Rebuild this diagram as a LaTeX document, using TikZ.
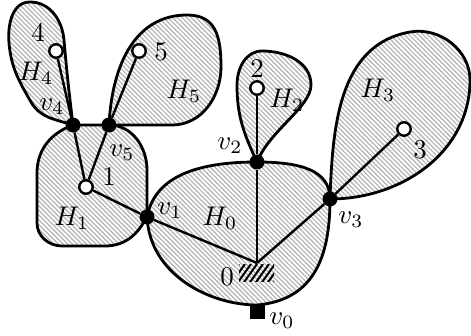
\documentclass[tikz,border=0pt]{standalone}
\usetikzlibrary{patterns.meta}
\begin{document}
\begin{tikzpicture}[x=1pt,y=1pt,
  blob/.style={line width=2.8pt, line join=round,
    pattern={Lines[angle=-45,distance=3.3pt,line width=1.2pt]}, pattern color=gray!60},
  edge/.style={line width=2.4pt},
  dot/.style={circle, fill=black, inner sep=0pt, minimum size=15pt},
  leaf/.style={circle, draw=black, fill=white, line width=2.4pt, inner sep=0pt, minimum size=13.5pt},
  sq/.style={rectangle, fill=black, inner sep=0pt, minimum width=15pt, minimum height=15pt},
  lbl/.style={inner sep=0pt, font=\normalsize, scale=2.7}]
\path[use as bounding box, fill=white] (0,0) rectangle (471,335);

% regions
% H0
\draw[blob] (147,118) .. controls (155,160) and (200,173) .. (257,173)
  .. controls (300,173) and (330,165) .. (330,136)
  .. controls (330,80) and (315,35) .. (257,30)
  .. controls (210,30) and (150,60) .. (147,118) -- cycle;
% H1
\draw[blob] (73,210) to[out=200,in=90] (37,162) -- (37,112)
  to[out=-90,in=180] (62,89) -- (105,89) to[out=0,in=-115] (147,119)
  -- (147,165) to[out=90,in=0] (109,210) -- cycle;
% H4
\draw[blob] (73,210) to[out=162,in=-60] (31,233) to[out=120,in=-85] (9,292)
  to[out=95,in=180] (30,333)
  to[out=0,in=95] (64,295) to[out=-85,in=97] (73,210) -- cycle;
% H5
\draw[blob] (109,210) .. controls (112,270) and (135,320) .. (187,320)
  .. controls (215,320) and (221,300) .. (221,268)
  to[out=-90,in=0] (172,210) -- cycle;
% H2
\draw[blob] (257,173) to[out=115,in=-90] (237,250) to[out=90,in=180] (262,284)
  to[out=0,in=90] (311,250) .. controls (311,228) and (270,205) .. (257,173) -- cycle;
% H3
\draw[blob] (330,136) to[out=88,in=190] (410,303) to[out=10,in=90] (470,255)
  to[out=-90,in=0] (330,136) -- cycle;

% ground symbol under root
\begin{scope}
\clip (239,54) rectangle (274,71);
\foreach \k in {0,...,8}
  \draw[line width=2pt] (224+6*\k,50) -- ++(15,21);
\end{scope}

% nodes
\coordinate (r) at (257,72);
\node[sq]  (v0) at (257,24) {};
\node[dot] (v1) at (147,118) {};
\node[dot] (v2) at (257,173) {};
\node[dot] (v3) at (330,136) {};
\node[dot] (v4) at (73,210) {};
\node[dot] (v5) at (109,210) {};
\node[leaf] (n1) at (86,148) {};
\node[leaf] (n2) at (257,247) {};
\node[leaf] (n3) at (404,206) {};
\node[leaf] (n4) at (56,284) {};
\node[leaf] (n5) at (139,284) {};

% edges
\draw[edge] (r) -- (v1);
\draw[edge] (r) -- (v2);
\draw[edge] (r) -- (v3);
\draw[edge] (v1) -- (n1);
\draw[edge] (n1) -- (v4);
\draw[edge] (n1) -- (v5);
\draw[edge] (v4) -- (n4);
\draw[edge] (v5) -- (n5);
\draw[edge] (v2) -- (n2);
\draw[edge] (v3) -- (n3);

% labels
\node[lbl] (l0)  at (227,58)  {$0$};
\node[lbl] (lv0) at (282,14)  {$v_0$};
\node[lbl] (lH0) at (220,117) {$H_0$};
\node[lbl] (lv1) at (170,124) {$v_1$};
\node[lbl] (lH1) at (72,117)  {$H_1$};
\node[lbl] (l1)  at (109,158) {$1$};
\node[lbl] (lv5) at (122,182) {$v_5$};
\node[lbl] (lv4) at (52,228)  {$v_4$};
\node[lbl] (lH4) at (36,262)  {$H_4$};
\node[lbl] (l4)  at (38,302)  {$4$};
\node[lbl] (l5)  at (161,283) {$5$};
\node[lbl] (lH5) at (184,244) {$H_5$};
\node[lbl] (lv2) at (230,189) {$v_2$};
\node[lbl] (l2)  at (257,266) {$2$};
\node[lbl] (lH2) at (287,235) {$H_2$};
\node[lbl] (lH3) at (378,245) {$H_3$};
\node[lbl] (l3)  at (420,185) {$3$};
\node[lbl] (lv3) at (351,115) {$v_3$};
\end{tikzpicture}
\end{document}
